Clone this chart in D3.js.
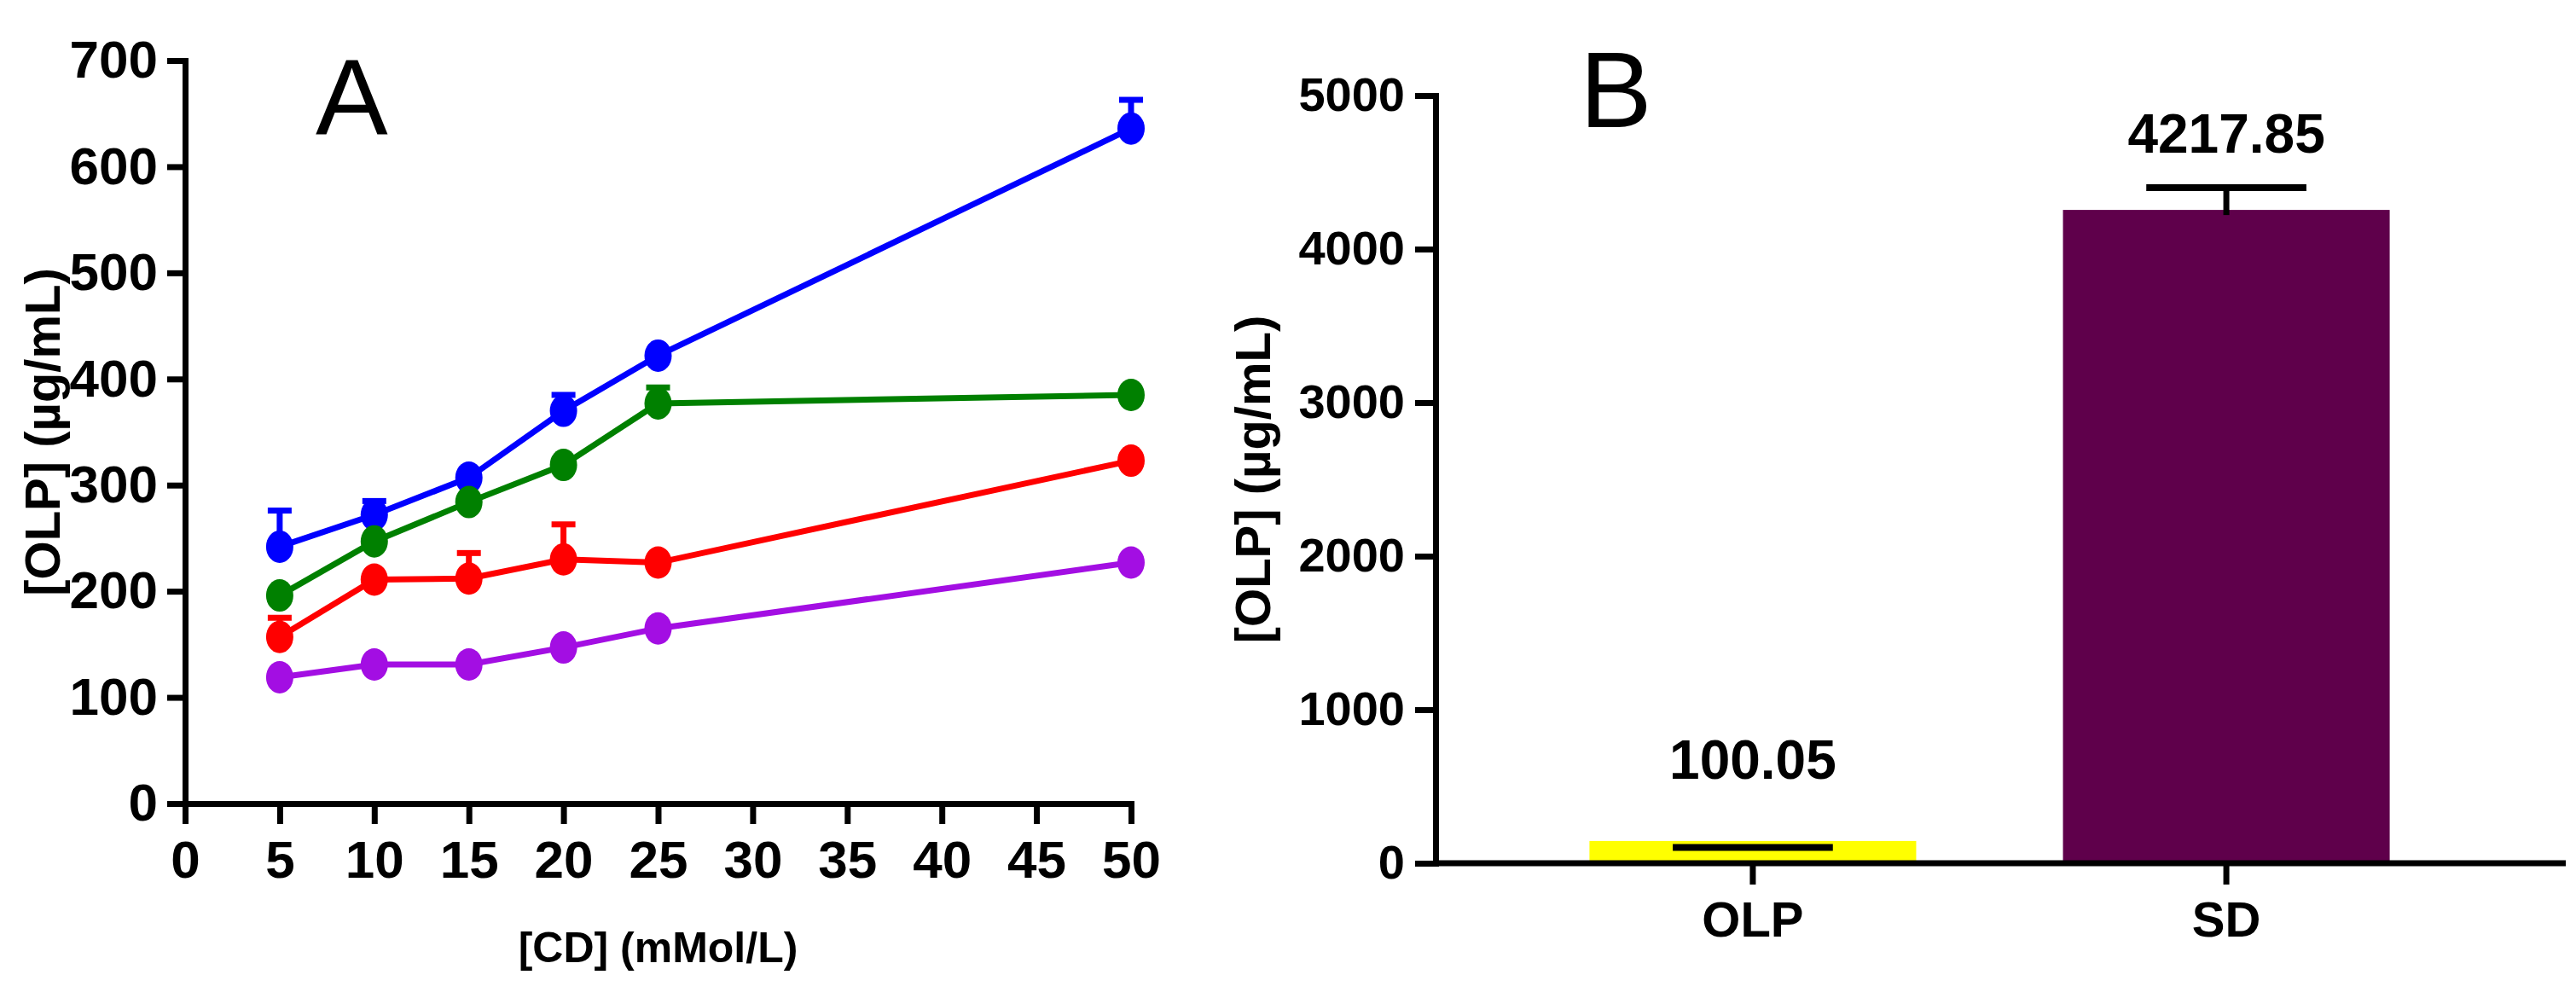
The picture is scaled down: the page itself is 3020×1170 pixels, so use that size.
<!DOCTYPE html>
<html>
<head>
<meta charset="utf-8">
<script src="https://cdn.jsdelivr.net/npm/d3@7"></script>
<style>
  body { margin: 0; background: #fff; }
  svg { display: block; }
  .narrow { font-family: "Liberation Sans Narrow", "Arial Narrow", sans-serif; font-weight: bold; }
  .bold { font-family: "Liberation Sans", Arial, sans-serif; font-weight: bold; }
  .letter { font-family: "Liberation Sans", Arial, sans-serif; font-weight: normal; }
</style>
</head>
<body>
<div id="chart"></div>
<script>
const width = 3020;
const height = 1170;

// Panel A data: [CD] concentrations and measured [OLP]
const cdConc = [5, 10, 15, 20, 25, 50];
const xTicksA = [0, 5, 10, 15, 20, 25, 30, 35, 40, 45, 50];
const yTicksA = [0, 100, 200, 300, 400, 500, 600, 700];

const blueVals = [242, 272, 307, 370, 422, 636];
const blueErr = [34, 13, 3, 15, 3, 27];
const greenVals = [196, 247, 284, 319, 377, 385];
const greenErr = [3, 3, 3, 3, 15, 3];
const redVals = [157, 211, 212, 230, 227, 323];
const redErr = [18, 3, 24, 33, 3, 3];
const purpleVals = [119, 131, 131, 147, 165, 227];
const purpleErr = [3, 3, 3, 3, 3, 3];

const seriesA = [
  { color: "#0000ff", vals: blueVals, err: blueErr },
  { color: "#008000", vals: greenVals, err: greenErr },
  { color: "#ff0000", vals: redVals, err: redErr },
  { color: "#a30ee3", vals: purpleVals, err: purpleErr }
];

// Panel B data
const categoriesB = ["OLP", "SD"];
const barValues = [145, 4255];
const capValues = [103, 4400];
const barLabels = ["100.05", "4217.85"];
const labelAt = [550, 4630];
const barColors = ["#ffff00", "#5f004b"];
const yTicksB = [0, 1000, 2000, 3000, 4000, 5000];

const svg = d3.select("#chart")
  .append("svg")
    .attr("width", width)
    .attr("height", height)
    .attr("viewBox", `0 0 ${width} ${height}`);

svg.append("rect")
  .attr("width", width)
  .attr("height", height)
  .attr("fill", "#fff");

/***************************/
/*        Panel A          */
/***************************/
const xA = d3.scaleLinear().domain([0, 50]).range([217, 1326]);
const yA = d3.scaleLinear().domain([0, 700]).range([942, 71]);

const axisXA = svg.append("g")
  .attr("transform", `translate(0, ${yA(0)})`)
  .call(d3.axisBottom(xA).tickValues(xTicksA).tickSize(24).tickSizeOuter(24).tickPadding(19));
axisXA.selectAll("text").attr("class", "narrow").attr("font-size", 62);

const axisYA = svg.append("g")
  .attr("transform", `translate(${xA(0)}, 0)`)
  .call(d3.axisLeft(yA).tickValues(yTicksA).tickSize(21).tickSizeOuter(21).tickPadding(11));
axisYA.selectAll("text").attr("class", "narrow").attr("font-size", 62);

[axisXA, axisYA].forEach(ax => {
  ax.attr("font-family", null).attr("font-size", null);
  ax.selectAll(".domain, line").attr("stroke", "#000").attr("stroke-width", 7);
  ax.selectAll("text").attr("fill", "#000");
});

// axis titles
svg.append("text")
  .attr("class", "bold")
  .attr("font-size", 50)
  .attr("text-anchor", "middle")
  .attr("x", (xA.range()[0] + xA.range()[1]) / 2)
  .attr("y", 1128)
  .text("[CD] (mMol/L)");

svg.append("text")
  .attr("class", "bold")
  .attr("font-size", 58)
  .attr("text-anchor", "middle")
  .attr("transform", `translate(70, ${(yA.range()[0] + yA.range()[1]) / 2}) rotate(-90)`)
  .text("[OLP] (µg/mL)");

svg.append("text")
  .attr("class", "letter")
  .attr("font-size", 127)
  .attr("x", 370)
  .attr("y", 157)
  .text("A");

// lines, error bars, markers
const line = d3.line()
  .x((d, i) => xA(cdConc[i]))
  .y(d => yA(d));

seriesA.forEach(s => {
  const g = svg.append("g");
  const pts = cdConc.map((c, i) => ({ x: c, y: s.vals[i], e: s.err[i] }));

  g.selectAll("line.err")
    .data(pts)
    .join("line")
      .attr("x1", d => xA(d.x))
      .attr("x2", d => xA(d.x))
      .attr("y1", d => yA(d.y))
      .attr("y2", d => yA(d.y + d.e))
      .attr("stroke", s.color)
      .attr("stroke-width", 7);

  g.selectAll("line.cap")
    .data(pts)
    .join("line")
      .attr("x1", d => xA(d.x) - 14)
      .attr("x2", d => xA(d.x) + 14)
      .attr("y1", d => yA(d.y + d.e))
      .attr("y2", d => yA(d.y + d.e))
      .attr("stroke", s.color)
      .attr("stroke-width", 7);

  g.append("path")
    .attr("d", line(s.vals))
    .attr("fill", "none")
    .attr("stroke", s.color)
    .attr("stroke-width", 7);

  g.selectAll("ellipse")
    .data(pts)
    .join("ellipse")
      .attr("cx", d => xA(d.x))
      .attr("cy", d => yA(d.y))
      .attr("rx", 16)
      .attr("ry", 19)
      .attr("fill", s.color);
});

/***************************/
/*        Panel B          */
/***************************/
const xB = d3.scaleBand()
  .domain(categoriesB)
  .range([1683, 2982])
  .paddingInner(0.31)
  .paddingOuter(0.325);
const yB = d3.scaleLinear().domain([0, 5000]).range([1012, 112]);

// bars
svg.selectAll("rect.bar")
  .data(categoriesB)
  .join("rect")
    .attr("class", "bar")
    .attr("x", d => xB(d))
    .attr("width", xB.bandwidth())
    .attr("y", (d, i) => yB(barValues[i]))
    .attr("height", (d, i) => yB(0) - yB(barValues[i]))
    .attr("fill", (d, i) => barColors[i]);

// error bars and value labels
const capW = xB.bandwidth() * 0.49;
categoriesB.forEach((c, i) => {
  const cx = xB(c) + xB.bandwidth() / 2;
  if (capValues[i] > barValues[i]) {
    svg.append("line")
      .attr("x1", cx).attr("x2", cx)
      .attr("y1", yB(barValues[i]) + 6)
      .attr("y2", yB(capValues[i]))
      .attr("stroke", "#000")
      .attr("stroke-width", 7);
  }
  svg.append("line")
    .attr("x1", cx - capW / 2).attr("x2", cx + capW / 2)
    .attr("y1", yB(capValues[i])).attr("y2", yB(capValues[i]))
    .attr("stroke", "#000")
    .attr("stroke-width", 8);
  svg.append("text")
    .attr("class", "bold")
    .attr("font-size", 64)
    .attr("text-anchor", "middle")
    .attr("x", cx)
    .attr("y", yB(labelAt[i]))
    .text(barLabels[i]);
});

const axisXB = svg.append("g")
  .attr("transform", `translate(0, ${yB(0)})`)
  .call(d3.axisBottom(xB).tickSize(25).tickSizeOuter(0).tickPadding(20));
axisXB.select(".domain").attr("d", `M${xB.range()[0]},0H${width - 12}`);
axisXB.selectAll("text").attr("class", "bold").attr("font-size", 58);

const axisYB = svg.append("g")
  .attr("transform", `translate(${xB.range()[0]}, 0)`)
  .call(d3.axisLeft(yB).tickValues(yTicksB).tickFormat(d3.format("d"))
    .tickSize(24).tickSizeOuter(24).tickPadding(12));
axisYB.selectAll("text").attr("class", "bold").attr("font-size", 56);

[axisXB, axisYB].forEach(ax => {
  ax.attr("font-family", null).attr("font-size", null);
  ax.selectAll(".domain, line").attr("stroke", "#000").attr("stroke-width", 7);
  ax.selectAll("text").attr("fill", "#000");
});

svg.append("text")
  .attr("class", "bold")
  .attr("font-size", 58)
  .attr("text-anchor", "middle")
  .attr("transform", `translate(1489, ${(yB.range()[0] + yB.range()[1]) / 2}) rotate(-90)`)
  .text("[OLP] (µg/mL)");

svg.append("text")
  .attr("class", "letter")
  .attr("font-size", 127)
  .attr("x", 1852)
  .attr("y", 149)
  .text("B");
</script>
</body>
</html>
